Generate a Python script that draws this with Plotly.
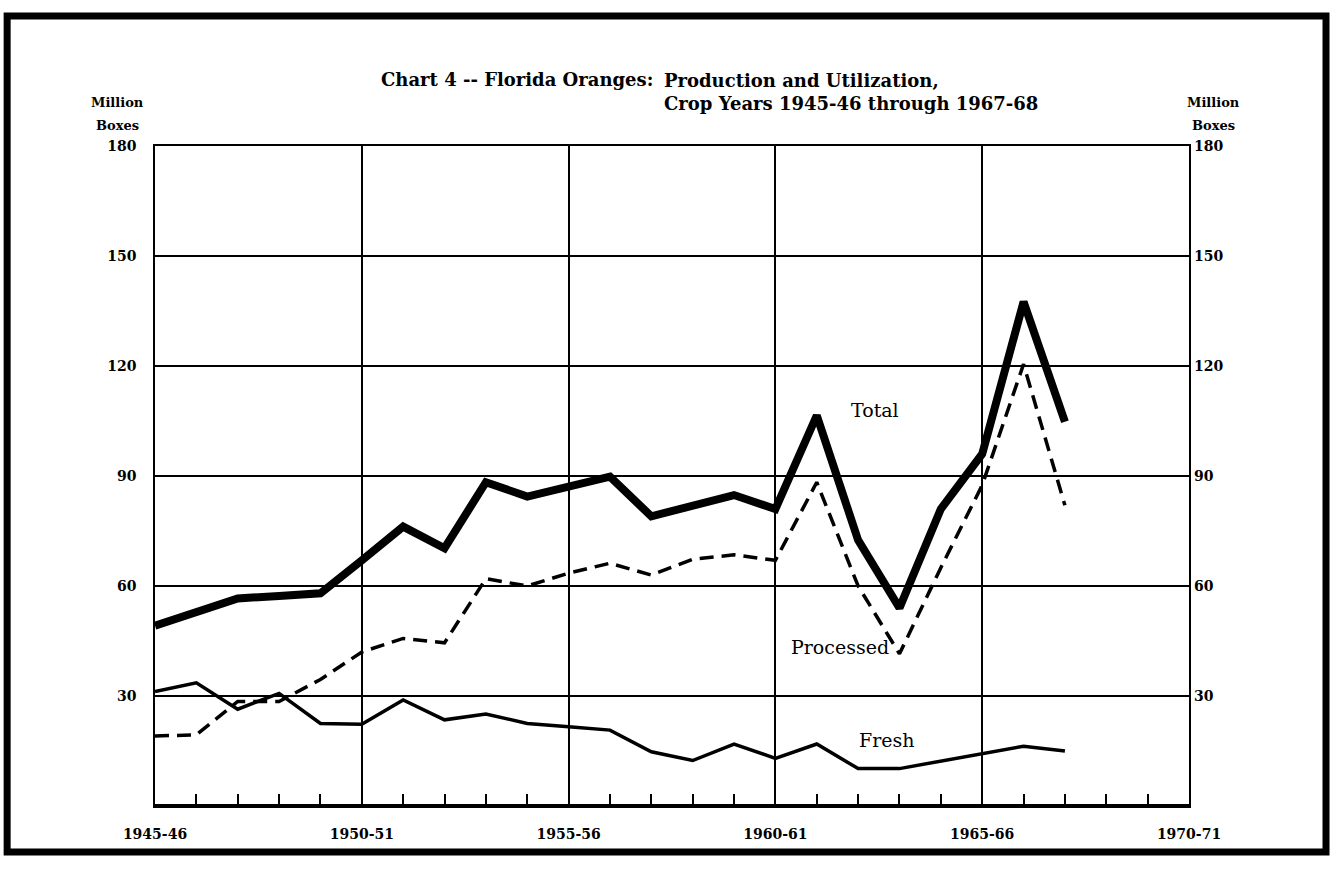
import plotly.graph_objects as go

# crop years 1945-46 .. 1967-68 (x = first year of the crop year)
years = list(range(1945, 1968))
total = [49.2, 53.0, 56.6, 57.3, 58.0, 67.0, 76.2, 70.3, 88.3, 84.4, 87.0, 89.8,
         79.0, 82.0, 84.8, 81.0, 106.5, 72.5, 54.0, 81.0, 96.0, 137.5, 104.8]
processed = [19.1, 19.4, 28.5, 28.5, 34.5, 42.0, 45.7, 44.5, 62.0, 60.0, 63.5, 66.2,
             63.0, 67.3, 68.5, 67.0, 88.3, 60.0, 41.5, 65.0, 87.5, 120.5, 82.0]
fresh = [31.2, 33.6, 26.4, 30.7, 22.5, 22.3, 28.9, 23.5, 25.1, 22.5, 21.6, 20.7,
         14.8, 12.4, 16.9, 13.0, 16.9, 10.2, 10.2, 12.2, 14.2, 16.3, 15.0]

x_ticks = [1945, 1950, 1955, 1960, 1965, 1970]
x_labels = ["1945-46", "1950-51", "1955-56", "1960-61", "1965-66", "1970-71"]
y_ticks = [30, 60, 90, 120, 150, 180]

serif = "DejaVu Serif"

fig = go.Figure()

fig.add_trace(go.Scatter(x=years, y=fresh, mode="lines",
                         line=dict(color="black", width=3.5)))
fig.add_trace(go.Scatter(x=years, y=processed, mode="lines",
                         line=dict(color="black", width=3.5, dash="14px,8px")))
fig.add_trace(go.Scatter(x=years, y=total, mode="lines",
                         line=dict(color="black", width=8)))
# dummy trace so the right axis shows up
fig.add_trace(go.Scatter(x=[None], y=[None], yaxis="y2", showlegend=False))

fig.update_layout(
    width=1333, height=869,
    margin=dict(l=155, r=144, t=146, b=63),
    paper_bgcolor="white", plot_bgcolor="white",
    showlegend=False,
    font=dict(family=serif, color="black"),
    xaxis=dict(range=[1945, 1970], tickvals=x_ticks, ticktext=x_labels,
               showgrid=True, gridcolor="black", gridwidth=1.5,
               ticks="inside", ticklen=12, tickwidth=1.5, tickcolor="black",
               minor=dict(dtick=1, ticks="inside", ticklen=12, tickwidth=1.5,
                          tickcolor="black", showgrid=False),
               showline=True, linecolor="black", linewidth=1.5, mirror=True,
               ticklabelstandoff=14,
               tickfont=dict(family=serif, size=14, weight="bold"),
               zeroline=False),
    yaxis=dict(range=[0, 180], tickvals=y_ticks,
               showgrid=True, gridcolor="black", gridwidth=1.5,
               showline=True, linecolor="black", linewidth=1.5, mirror=True,
               ticks="", ticklabelstandoff=14,
               tickfont=dict(family=serif, size=14, weight="bold"),
               zeroline=False),
    yaxis2=dict(range=[0, 180], tickvals=y_ticks, overlaying="y", side="right",
                showgrid=False, ticks="", ticklabelstandoff=4,
                tickfont=dict(family=serif, size=14, weight="bold"),
                zeroline=False),
)

# heavier base line and outer frame
fig.add_shape(type="line", xref="paper", yref="y", x0=0, x1=1, y0=0, y1=0,
              line=dict(color="black", width=4))
fig.add_shape(type="rect", xref="paper", yref="paper",
              x0=-0.143, x1=1.1325, y0=-0.0697, y1=1.197,
              line=dict(color="black", width=7))

ann = dict(showarrow=False, font=dict(family=serif, size=18, weight="bold", color="black"))
fig.add_annotation(text="Chart 4 -- Florida Oranges:", xref="paper", yref="paper",
                   x=(655 - 155) / 1034, y=(806 - 80) / 660,
                   xanchor="right", yanchor="middle", **ann)
fig.add_annotation(text="Production and Utilization,<br>Crop Years 1945-46 through 1967-68",
                   xref="paper", yref="paper", align="left",
                   x=(662 - 155) / 1034, y=(806 - 68) / 660,
                   xanchor="left", yanchor="top", **ann)

side = dict(showarrow=False, xref="paper", yref="paper", xanchor="center", yanchor="middle",
            font=dict(family=serif, size=13, weight="bold", color="black"))
for px in (117, 1213):
    fig.add_annotation(text="Million", x=(px - 155) / 1034, y=(806 - 103) / 660, **side)
    fig.add_annotation(text="Boxes", x=(px - 155) / 1034, y=(806 - 125) / 660, **side)

lab = dict(showarrow=False, font=dict(family=serif, size=19, color="black"))
fig.add_annotation(text="Total", x=1962.4, y=108, **lab)
fig.add_annotation(text="Processed", x=1961.55, y=43.4, **lab)
fig.add_annotation(text="Fresh", x=1962.7, y=18, **lab)

fig.write_html("out.html", config={"displayModeBar": False},
               post_script="document.body.style.margin='0';document.body.style.overflow='hidden';")
